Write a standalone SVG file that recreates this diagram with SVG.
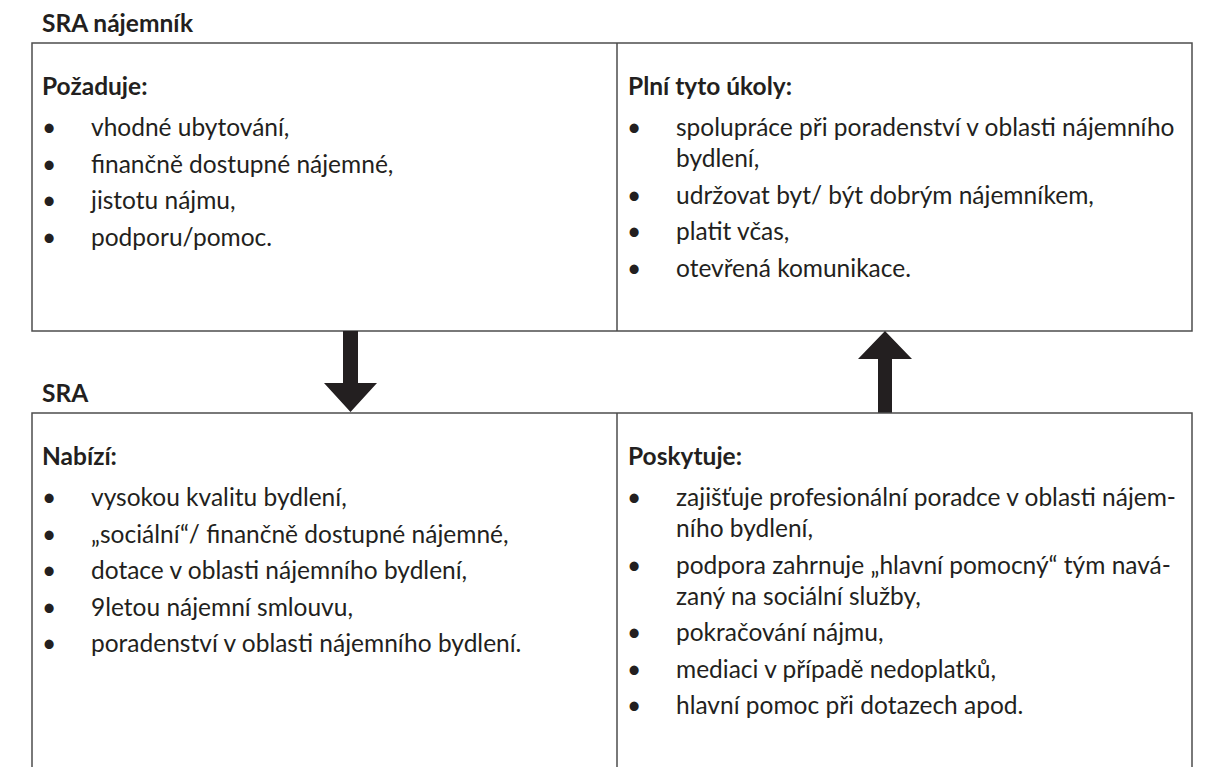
<svg xmlns="http://www.w3.org/2000/svg" width="1207" height="767" viewBox="0 0 1207 767">
<style>
text{font-family:Lato,"Open Sans","Liberation Sans",sans-serif;fill:#231f20;font-size:24.5px}
.b{font-weight:bold}
.box{fill:none;stroke:#4d4d4d;stroke-width:1.5}
.arrow{fill:#231f20}
</style>
<rect width="1207" height="767" fill="#fff"/>
<g id="label-tenant"><text class="b" x="42" y="32">SRA nájemník</text></g>
<g id="tenant-box">
<rect class="box" x="32" y="43" width="1160" height="288"/>
<line class="box" x1="617" y1="43" x2="617" y2="331"/>
</g>
<g id="tenant-requires">
<text class="b" x="42" y="95">Požaduje:</text>
<text x="42" y="136">•</text><text x="91" y="136">vhodné ubytování,</text>
<text x="42" y="172.5">•</text><text x="91" y="172.5">finančně dostupné nájemné,</text>
<text x="42" y="209">•</text><text x="91" y="209">jistotu nájmu,</text>
<text x="42" y="245.5">•</text><text x="91" y="245.5">podporu/pomoc.</text>
</g>
<g id="tenant-tasks">
<text class="b" x="628" y="95">Plní tyto úkoly:</text>
<text x="627" y="136">•</text><text x="676" y="136">spolupráce při poradenství v oblasti nájemního</text>
<text x="676" y="167">bydlení,</text>
<text x="627" y="203.5">•</text><text x="676" y="203.5">udržovat byt/ být dobrým nájemníkem,</text>
<text x="627" y="240">•</text><text x="676" y="240">platit včas,</text>
<text x="627" y="276.5">•</text><text x="676" y="276.5">otevřená komunikace.</text>
</g>
<g id="connectors">
<polygon class="arrow" points="343,331 358,331 358,383 377,383 350.5,412 324,383 343,383"/>
<polygon class="arrow" points="878,413 892,413 892,359 912,359 885,331 858,359 878,359"/>
</g>
<g id="label-sra"><text class="b" x="42" y="402">SRA</text></g>
<g id="sra-box">
<path class="box" d="M32,780 V413 H1192 V780 M617,413 V780"/>
</g>
<g id="sra-offers">
<text class="b" x="42" y="465">Nabízí:</text>
<text x="42" y="506">•</text><text x="91" y="506">vysokou kvalitu bydlení,</text>
<text x="42" y="542.5">•</text><text x="91" y="542.5">„sociální“/ finančně dostupné nájemné,</text>
<text x="42" y="579">•</text><text x="91" y="579">dotace v oblasti nájemního bydlení,</text>
<text x="42" y="615.5">•</text><text x="91" y="615.5">9letou nájemní smlouvu,</text>
<text x="42" y="652">•</text><text x="91" y="652">poradenství v oblasti nájemního bydlení.</text>
</g>
<g id="sra-provides">
<text class="b" x="628" y="465">Poskytuje:</text>
<text x="627" y="506">•</text><text x="676" y="506">zajišťuje profesionální poradce v oblasti nájem-</text>
<text x="676" y="537">ního bydlení,</text>
<text x="627" y="573.5">•</text><text x="676" y="573.5">podpora zahrnuje „hlavní pomocný“ tým navá-</text>
<text x="676" y="604.5">zaný na sociální služby,</text>
<text x="627" y="641">•</text><text x="676" y="641">pokračování nájmu,</text>
<text x="627" y="677.5">•</text><text x="676" y="677.5">mediaci v případě nedoplatků,</text>
<text x="627" y="714">•</text><text x="676" y="714">hlavní pomoc při dotazech apod.</text>
</g>
</svg>
